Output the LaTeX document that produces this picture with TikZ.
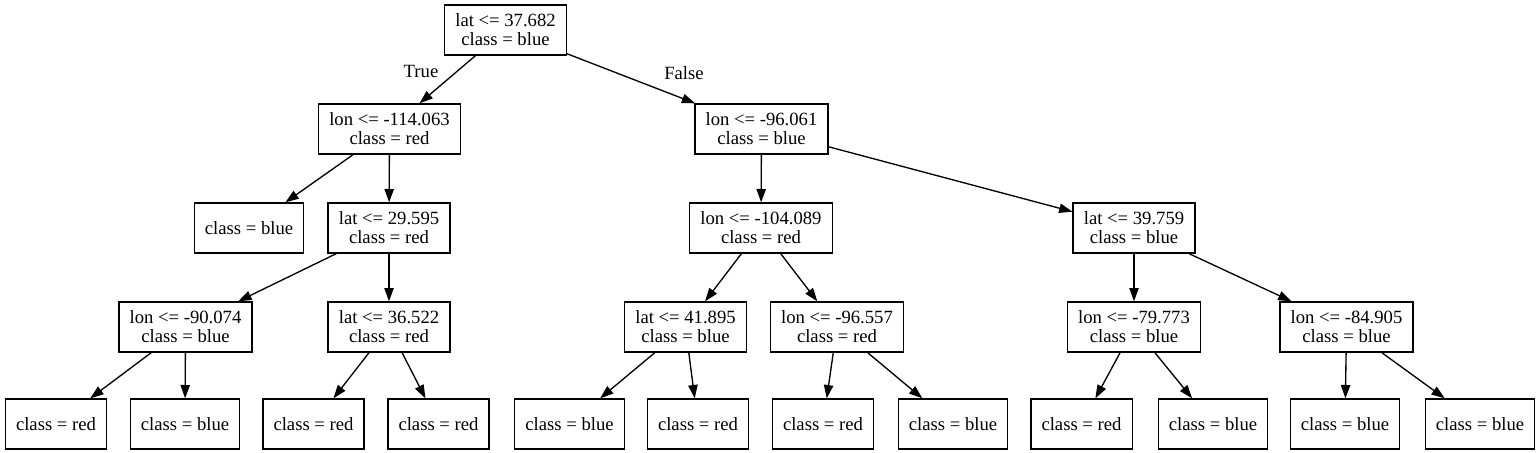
\documentclass[tikz,border=0pt]{standalone}
\usepackage{fontspec}
\setmainfont{Liberation Serif}
\newfontfamily\timesfont{Liberation Serif}
\usetikzlibrary{arrows.meta}
\tikzset{
  box/.style={draw, line width=1pt, rectangle, align=center, inner xsep=8pt, inner ysep=0pt,
    minimum height=37.5pt, font=\timesfont\fontsize{14}{14.3}\selectfont},
  edge/.style={line width=1pt, -{Triangle[length=10pt,width=7pt]}},
  elabel/.style={font=\timesfont\fontsize{14}{14.3}\selectfont, inner sep=0pt}
}
\begin{document}
\begin{tikzpicture}[x=0.75pt,y=-0.75pt]
\useasboundingbox (0,0) rectangle (1539,453);
\node[box] (root) at (505.5,30) {lat <= 37.682\\class = blue};
\node[box] (n1) at (389.5,129) {lon <= -114.063\\class = red};
\node[box] (n2) at (761.5,129) {lon <= -96.061\\class = blue};
\node[box] (l0) at (249,228) {class = blue};
\node[box] (n3) at (389,228) {lat <= 29.595\\class = red};
\node[box] (n4) at (761,228) {lon <= -104.089\\class = red};
\node[box] (n5) at (1134,228) {lat <= 39.759\\class = blue};
\node[box] (n6) at (185.5,327) {lon <= -90.074\\class = blue};
\node[box] (n7) at (389,327) {lat <= 36.522\\class = red};
\node[box] (n8) at (685.5,327) {lat <= 41.895\\class = blue};
\node[box] (n9) at (837,327) {lon <= -96.557\\class = red};
\node[box] (n10) at (1134,327) {lon <= -79.773\\class = blue};
\node[box] (n11) at (1346.5,327) {lon <= -84.905\\class = blue};
\node[box] (l1) at (56,424) {class = red};
\node[box] (l2) at (185,424) {class = blue};
\node[box] (l3) at (313.5,424) {class = red};
\node[box] (l4) at (438.5,424) {class = red};
\node[box] (l5) at (569.5,424) {class = blue};
\node[box] (l6) at (698,424) {class = red};
\node[box] (l7) at (823,424) {class = red};
\node[box] (l8) at (953,424) {class = blue};
\node[box] (l9) at (1081.5,424) {class = red};
\node[box] (l10) at (1213,424) {class = blue};
\node[box] (l11) at (1345,424) {class = blue};
\node[box] (l12) at (1480,424) {class = blue};
\draw[edge] (root) -- (n1);
\draw[edge] (root) -- (n2);
\draw[edge] (n1) -- (l0);
\draw[edge] (n1) -- (n3);
\draw[edge] (n2) -- (n4);
\draw[edge] (n2) -- (n5);
\draw[edge] (n3) -- (n6);
\draw[edge] (n3) -- (n7);
\draw[edge] (n4) -- (n8);
\draw[edge] (n4) -- (n9);
\draw[edge] (n5) -- (n10);
\draw[edge] (n5) -- (n11);
\draw[edge] (n6) -- (l1);
\draw[edge] (n6) -- (l2);
\draw[edge] (n7) -- (l3);
\draw[edge] (n7) -- (l4);
\draw[edge] (n8) -- (l5);
\draw[edge] (n8) -- (l6);
\draw[edge] (n9) -- (l7);
\draw[edge] (n9) -- (l8);
\draw[edge] (n10) -- (l9);
\draw[edge] (n10) -- (l10);
\draw[edge] (n11) -- (l11);
\draw[edge] (n11) -- (l12);
\node[elabel] (true) at (421,71) {True};
\node[elabel] (false) at (684,73) {False};
\end{tikzpicture}
\end{document}
